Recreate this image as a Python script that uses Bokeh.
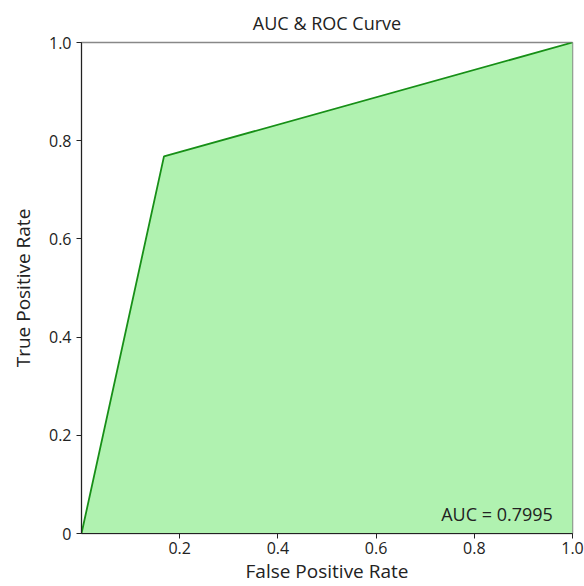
from bokeh.plotting import figure
from bokeh.models import FixedTicker, Label, Range1d
from bokeh.embed import file_html
from bokeh.resources import INLINE

fpr = [0.0, 0.168, 1.0]
tpr = [0.0, 0.768, 1.0]
auc_text = "AUC = 0.7995"
x_ticks = [0.2, 0.4, 0.6, 0.8, 1.0]
y_ticks = [0.0, 0.2, 0.4, 0.6, 0.8, 1.0]
y_labels = ["0", "0.2", "0.4", "0.6", "0.8", "1.0"]

FONT = "Open Sans"

p = figure(width=584, height=586, output_backend="svg", toolbar_location=None,
           x_range=Range1d(0, 1), y_range=Range1d(0, 1),
           title="AUC & ROC Curve", min_border_left=81, min_border_right=12,
           min_border_top=26, min_border_bottom=10)
p.title.align = "center"
p.title.text_font = FONT
p.title.text_font_size = "18px"
p.title.text_font_style = "normal"
p.title.text_color = "#222222"
p.title.standoff = 16

p.xgrid.visible = False
p.ygrid.visible = False
p.outline_line_color = "#888888"
p.outline_line_width = 1.5

xs = fpr + [1.0]
ys = tpr + [0.0]
p.patch(xs, ys, fill_color="#b0f2b0", line_color=None)
p.line(fpr, tpr, line_color="#178f17", line_width=1.8)

for ax in (p.xaxis[0], p.yaxis[0]):
    ax.axis_line_color = "#222222"
    ax.major_tick_line_color = "#222222"
    ax.major_tick_in = 0
    ax.major_tick_out = 5
    ax.minor_tick_line_color = None
    ax.major_label_text_font = FONT
    ax.major_label_text_font_size = "16px"
    ax.major_label_text_color = "#222222"
    ax.axis_label_text_font = FONT
    ax.axis_label_text_font_size = "19px"
    ax.axis_label_text_font_style = "normal"
    ax.axis_label_text_color = "#222222"

p.xaxis.ticker = FixedTicker(ticks=x_ticks)
p.yaxis.ticker = FixedTicker(ticks=y_ticks)
p.yaxis.major_label_overrides = {t: l for t, l in zip(y_ticks, y_labels)}
p.xaxis.major_label_overrides = {1.0: "1.0"}
p.xaxis.axis_label = "False Positive Rate"
p.yaxis.axis_label = "True Positive Rate"
p.xaxis.major_label_standoff = 3
p.xaxis.axis_label_standoff = 1
p.yaxis.axis_label_standoff = 10

p.add_layout(Label(x=0.96, y=0.04, text=auc_text, text_align="right",
                   text_baseline="alphabetic", text_font=FONT,
                   text_font_size="18px", text_color="#222222"))

open("out.html", "w").write(file_html(p, INLINE))
